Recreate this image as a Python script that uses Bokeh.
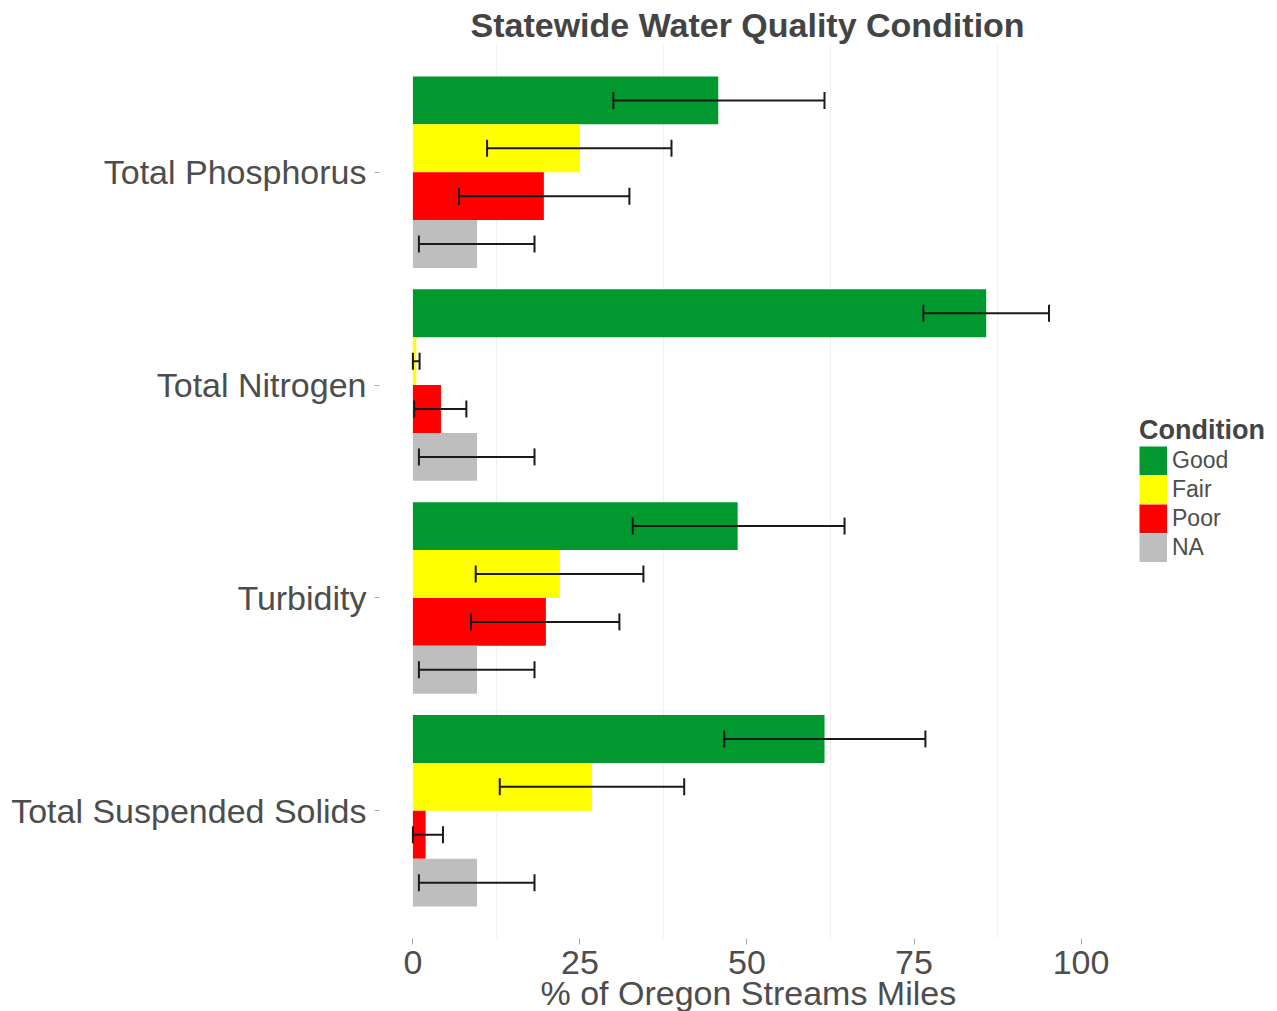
import numpy as np
from bokeh.plotting import figure
from bokeh.models import (ColumnDataSource, Range1d, FixedTicker, Legend, LegendItem,
                          Whisker, TeeHead, Title)
from bokeh.embed import file_html
from bokeh.resources import INLINE

# ---- data ----
categories = ["Total Phosphorus", "Total Nitrogen", "Turbidity", "Total Suspended Solids"]
conditions = ["Good", "Fair", "Poor", "NA"]
good = [45.7, 85.8, 48.6, 61.6]
good_lo = [30.0, 76.4, 32.9, 46.6]
good_hi = [61.6, 95.2, 64.6, 76.7]
fair = [25.0, 0.5, 22.0, 26.8]
fair_lo = [11.1, 0.0, 9.4, 13.0]
fair_hi = [38.7, 1.0, 34.5, 40.6]
poor = [19.6, 4.2, 19.9, 1.9]
poor_lo = [6.9, 0.2, 8.7, 0.0]
poor_hi = [32.4, 8.0, 30.9, 4.5]
na = [9.6, 9.6, 9.6, 9.6]
na_lo = [0.9, 0.9, 0.9, 0.9]
na_hi = [18.2, 18.2, 18.2, 18.2]
x_ticks = [0, 25, 50, 75, 100]
x_minor = [12.5, 37.5, 62.5, 87.5]

colors = {"Good": "#00982F", "Fair": "#FFFF00", "Poor": "#FF0000", "NA": "#BEBEBE"}
series = {"Good": (good, good_lo, good_hi), "Fair": (fair, fair_lo, fair_hi),
          "Poor": (poor, poor_lo, poor_hi), "NA": (na, na_lo, na_hi)}

n = len(categories)
ypos = [n - 1 - i for i in range(n)]
bar_h = 0.9 / len(conditions)
offsets = {c: 0.45 - bar_h * (k + 0.5) for k, c in enumerate(conditions)}

TXT = "#4d4d4d"
FONT = "Liberation Sans"

# plotting frame extends to the right so that the legend (inside the frame) is not clipped
p = figure(width=1277, height=1011, x_range=Range1d(-5, 128.35), y_range=Range1d(-0.6, n - 0.4),
           output_backend="svg", toolbar_location=None,
           min_border_left=379, min_border_right=7, min_border_top=44, min_border_bottom=73,
           title="Statewide Water Quality Condition")
p.outline_line_color = None
p.background_fill_color = "white"
p.border_fill_color = "white"

p.title.text_font = FONT
p.title.text_font_size = "34px"
p.title.text_font_style = "bold"
p.title.text_color = "#444444"
p.title.align = "left"
p.title.offset = 91
p.title.standoff = 2

legend_glyphs = {}
for c in conditions:
    vals, lo, hi = series[c]
    src = ColumnDataSource(dict(y=[y + offsets[c] for y in ypos], v=vals, lo=lo, hi=hi))
    p.hbar(y="y", left=0, right="v", height=bar_h, source=src,
           fill_color=colors[c], line_color=None)
    w = Whisker(source=src, base="y", lower="lo", upper="hi", dimension="width",
                line_color="#1a1a1a", line_width=2, level="annotation",
                upper_head=TeeHead(size=17, line_width=2, line_color="#1a1a1a"),
                lower_head=TeeHead(size=17, line_width=2, line_color="#1a1a1a"))
    p.add_layout(w)
    # undrawn (NaN) renderer used only as a solid, full-size legend key
    legend_glyphs[c] = p.line(x=np.array([np.nan, np.nan]), y=np.array([np.nan, np.nan]),
                              line_color=colors[c], line_width=29, line_cap="butt")

# axes
p.xaxis.ticker = FixedTicker(ticks=x_ticks, minor_ticks=x_minor)
p.xaxis.major_label_text_font = FONT
p.xaxis.major_label_text_font_size = "34px"
p.xaxis.major_label_text_color = TXT
p.xaxis.major_label_standoff = 6
p.xaxis.major_tick_out = 6
p.xaxis.major_tick_in = 0
p.xaxis.major_tick_line_color = "#aaaaaa"
p.xaxis.minor_tick_line_color = None
p.xaxis.axis_line_color = None

# x-axis title, centred under the 0-100 data area
xlabel = Title(text="% of Oregon Streams Miles", align="left", offset=161, standoff=-10,
               text_font=FONT, text_font_size="34px", text_font_style="normal",
               text_color=TXT)
p.add_layout(xlabel, "below")

p.yaxis.ticker = FixedTicker(ticks=ypos)
p.yaxis.major_label_overrides = {y: c for y, c in zip(ypos, categories)}
p.yaxis.major_label_text_font = FONT
p.yaxis.major_label_text_font_size = "34px"
p.yaxis.major_label_text_color = TXT
p.yaxis.major_label_standoff = 8
p.yaxis.major_tick_out = 5
p.yaxis.major_tick_in = 0
p.yaxis.major_tick_line_color = "#aaaaaa"
p.yaxis.minor_tick_line_color = None
p.yaxis.axis_line_color = None

p.xgrid.grid_line_color = None
p.xgrid.minor_grid_line_color = "#f0f0f0"
p.ygrid.grid_line_color = None

legend = Legend(items=[LegendItem(label=c, renderers=[legend_glyphs[c]]) for c in conditions],
                location=(760, 376), title="Condition", orientation="vertical",
                glyph_width=28, glyph_height=29, label_height=29, spacing=0,
                padding=0, margin=0, border_line_color=None, background_fill_alpha=0,
                label_text_font=FONT, label_text_font_size="23px", label_text_color=TXT,
                label_standoff=5, title_text_font=FONT, title_text_font_size="27px",
                title_text_font_style="bold", title_text_color="#444444", title_standoff=-4)
p.add_layout(legend)

open("out.html", "w").write(file_html(p, INLINE))
